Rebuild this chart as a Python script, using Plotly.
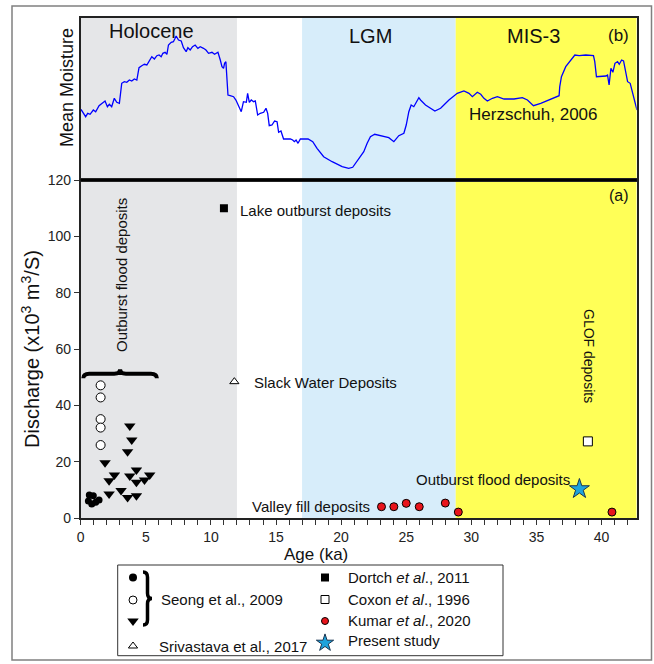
import plotly.graph_objects as go

W, H = 654, 664
FONT = "Liberation Sans, Arial, sans-serif"

# ---------------- data ----------------
moist_age = [0.02, 0.38, 0.54, 0.72, 0.97, 1.15, 1.41, 1.66, 1.87, 2.05, 2.2, 2.38, 2.58, 2.77, 2.97,
             3.15, 3.35, 3.54, 3.74, 3.92, 4.12, 4.31, 4.48, 4.69, 4.89, 5.08, 5.25, 5.46, 5.66, 5.85,
             6.02, 6.18, 6.31, 6.48, 6.62, 6.74, 6.95, 7.12, 7.25, 7.33, 7.51, 7.72, 7.89, 8.1, 8.23,
             8.41, 8.59, 8.79, 9.0, 9.18, 9.43, 9.62, 9.82, 10.08, 10.28, 10.54, 10.72, 10.85, 10.97,
             11.05, 11.15, 11.23, 11.31, 11.48, 11.74, 11.92, 12.12, 12.33, 12.5, 12.72, 12.82, 12.95,
             13.1, 13.28, 13.41, 13.59, 13.79, 14.05, 14.23, 14.36, 14.48, 14.69, 14.89, 15.08, 15.2,
             15.38, 15.58, 15.85, 16.1, 16.28, 16.41, 16.54, 16.69, 16.87, 17.12, 17.46, 17.82, 18.15,
             18.66, 19.31, 20.08, 20.58, 20.89, 21.1, 21.41, 21.74, 22.0, 22.25, 22.58, 23.15, 23.66,
             24.05, 24.43, 24.82, 25.0, 25.2, 25.38, 25.58, 25.85, 25.97, 26.1, 26.48, 27.2, 27.64,
             28.28, 28.92, 29.43, 29.82, 30.08, 30.46, 30.72, 30.97, 31.23, 31.62, 32.0, 32.51, 33.28,
             33.92, 34.31, 34.77, 35.33, 35.97, 36.74, 36.79, 36.92, 37.25, 37.64, 37.95, 38.28, 38.79,
             39.38, 39.48, 39.61, 39.95, 40.33, 40.46, 40.58, 40.72, 40.87, 41.03, 41.23, 41.36, 41.54,
             41.69, 41.79, 42.0, 42.2, 42.38, 42.72]
moist_val = [70.7, 63.3, 66.7, 65.7, 70, 68.3, 74.3, 76.7, 79, 73.3, 75.7, 73.3, 81.7, 77.7, 76.7,
             96.7, 98.3, 97.7, 100, 99, 101, 100, 112.3, 114.3, 115.7, 115, 118.3, 123.3, 121, 124.3,
             125, 123.3, 126.7, 127.7, 125.7, 135, 137.7, 138.3, 141.7, 144, 140, 139, 132.3, 128.3, 132.3,
             130, 133.3, 135, 131.7, 133.3, 131.7, 130, 126.7, 127.7, 125.7, 127.7, 120, 113.3, 111.7,
             116.7, 118.3, 100, 85, 84.3, 83.3, 80, 75, 68.3, 78.3, 77.7, 86.7, 77.7,
             80, 78.3, 79, 65, 66.7, 67.7, 71.7, 66.7, 54.3, 55, 59, 58.3, 47.7,
             49, 41, 41, 41, 40, 38.3, 40, 36.7, 41, 41, 41, 38.3, 31.7,
             23.3, 18.3, 13.3, 11.7, 12.7, 16.7, 23.3, 28.3, 36.7, 43.3, 45.7, 44.3, 42.3,
             38.3, 44.3, 46.7, 55, 68.3, 75, 73.3, 80, 82.3, 80, 75, 69, 71.7,
             80, 86.7, 89, 86.7, 83.3, 87.7, 85.7, 81.7, 79, 81.7, 83.3, 81, 81,
             82.3, 80, 74.3, 76.7, 80, 84.3, 93.3, 103.3, 113.3, 120, 125, 124.3, 125,
             124.3, 118.3, 103.3, 103.3, 104, 105, 95, 111.7, 107.7, 116.7, 118.3, 115.7, 120,
             119, 111.7, 98.3, 96.7, 88.3, 70]

seong_filled_age = [0.66, 0.97, 0.59, 0.85, 1.15, 1.41]
seong_filled_q = [8.2, 7.9, 6.0, 5.0, 5.6, 6.4]
seong_open_age = [1.53, 1.53, 1.53, 1.53, 1.53]
seong_open_q = [47.1, 42.8, 35.1, 32.1, 25.9]
seong_tri_age = [1.87, 2.18, 2.59, 2.18, 3.1, 3.77, 3.92, 3.6, 3.77, 4.28, 4.28, 3.6, 4.28, 4.9, 5.3]
seong_tri_q = [19.6, 13.2, 15.3, 8.5, 9.8, 32.7, 27.7, 23.5, 14.9, 17.0, 12.7, 7.3, 7.9, 13.5, 15.3]
dortch_age = [11.0]
dortch_q = [110]
srivastava_age = [11.8]
srivastava_q = [48.4]
coxon_age = [38.95]
coxon_q = [27.2]
kumar_age = [23.1, 24.05, 25.0, 26.0, 28.0, 29.0, 40.8]
kumar_q = [4.0, 4.0, 5.2, 4.0, 5.3, 2.1, 2.1]
present_age = [38.3]
present_q = [10.3]

periods = [("Holocene", 0, 12, "#e5e6e8"), ("", 12, 17, None),
           ("LGM", 17, 28.8, "#d7edfa"), ("MIS-3", 28.8, 42.7, "#ffff57")]
x_ticks = [0, 5, 10, 15, 20, 25, 30, 35, 40]
y_ticks = [0, 20, 40, 60, 80, 100, 120]

# ---------------- layout geometry (pixels) ----------------
PX_L, PX_R = 80.7, 636.7
PY_TOP, PY_MID, PY_BOT = 18, 180, 518
def xp(px): return px / W
def yp(py): return 1 - py / H

fig = go.Figure()

# moisture curve (top panel)
fig.add_trace(go.Scatter(x=moist_age, y=moist_val, mode="lines", xaxis="x2", yaxis="y2",
                         line=dict(color="#0000ff", width=1.3), showlegend=False))

mk_line = dict(color="black", width=1)
fig.add_trace(go.Scatter(x=seong_filled_age, y=seong_filled_q, mode="markers",
                         marker=dict(symbol="circle", size=7, color="black"), showlegend=False))
fig.add_trace(go.Scatter(x=seong_open_age, y=seong_open_q, mode="markers",
                         marker=dict(symbol="circle", size=9, color="white", line=mk_line), showlegend=False))
fig.add_trace(go.Scatter(x=seong_tri_age, y=seong_tri_q, mode="markers",
                         marker=dict(symbol="triangle-down", size=10, color="black"), showlegend=False))
fig.add_trace(go.Scatter(x=dortch_age, y=dortch_q, mode="markers",
                         marker=dict(symbol="square", size=8, color="black"), showlegend=False))
fig.add_trace(go.Scatter(x=srivastava_age, y=srivastava_q, mode="markers",
                         marker=dict(symbol="triangle-up", size=8, color="white", line=mk_line), showlegend=False))
fig.add_trace(go.Scatter(x=coxon_age, y=coxon_q, mode="markers",
                         marker=dict(symbol="square", size=9, color="white", line=mk_line), showlegend=False))
fig.add_trace(go.Scatter(x=kumar_age, y=kumar_q, mode="markers",
                         marker=dict(symbol="circle", size=8, color="#e8141c", line=mk_line), showlegend=False))
fig.add_trace(go.Scatter(x=present_age, y=present_q, mode="markers",
                         marker=dict(symbol="star", size=15, color="#1ea3dc", line=dict(color="#1a3550", width=1)),
                         showlegend=False))

# ---------------- legend (pixel-space overlay axis) ----------------
LX1, LX2 = 133, 325
leg_left = [("circle", 8, "black", None, 577.5),
            ("circle", 8, "white", mk_line, 600),
            ("triangle-down", 10, "black", None, 621),
            ("triangle-up", 8, "white", mk_line, 646)]
leg_right = [("square", 8, "black", None, 577.5),
             ("square", 8, "white", mk_line, 599.5),
             ("circle", 7, "#e8141c", mk_line, 621),
             ("star", 13, "#1ea3dc", dict(color="#1a3550", width=1), 643)]
for col_x, items in ((LX1, leg_left), (LX2, leg_right)):
    for sym, sz, colr, ln, yy in items:
        m = dict(symbol=sym, size=sz, color=colr)
        if ln:
            m["line"] = ln
        fig.add_trace(go.Scatter(x=[col_x], y=[yy], mode="markers", xaxis="x3", yaxis="y3",
                                 marker=m, showlegend=False, hoverinfo="skip"))

# ---------------- shapes ----------------
shapes = []
for name, a, b, col in periods:
    if col:
        shapes.append(dict(type="rect", xref="x", yref="paper", x0=a, x1=b,
                           y0=yp(PY_BOT), y1=yp(PY_TOP), fillcolor=col, line=dict(width=0), layer="below"))

def hbrace(x0, x1, y, h):
    xm = (x0 + x1) / 2
    r = (x1 - x0) * 0.08
    yb = y + h * 0.5
    return (f"M {x0},{y} Q {x0},{yb} {x0 + r},{yb} L {xm - r},{yb} "
            f"Q {xm},{yb} {xm},{y + h} Q {xm},{yb} {xm + r},{yb} L {x1 - r},{yb} Q {x1},{yb} {x1},{y}")

def vbrace(x, y0, y1, w):
    ym = (y0 + y1) / 2
    r = (y1 - y0) * 0.1
    xb = x + w * 0.5
    return (f"M {x},{y0} Q {xb},{y0} {xb},{y0 + r} L {xb},{ym - r} "
            f"Q {xb},{ym} {x + w},{ym} Q {xb},{ym} {xb},{ym + r} L {xb},{y1 - r} Q {xb},{y1} {x},{y1}")

shapes.append(dict(type="path", xref="x", yref="y", path=hbrace(0.2, 5.85, 49.6, 3.2),
                   line=dict(color="black", width=4)))
shapes.append(dict(type="path", xref="x3", yref="y3", path=vbrace(143, 572, 625, 9),
                   line=dict(color="black", width=3.5)))
# legend box
shapes.append(dict(type="rect", xref="x3", yref="y3", x0=117.7, x1=503, y0=565, y1=655.7,
                   line=dict(color="#333", width=1)))
# outer frame
shapes.append(dict(type="rect", xref="paper", yref="paper", x0=xp(12), x1=xp(651.5), y0=yp(660), y1=yp(6),
                   line=dict(color="#808080", width=1.5)))

# ---------------- annotations ----------------
ann = []
def txt(x, y, s, size=15, xanchor="center", ref="x3", angle=0, yanchor="middle"):
    ann.append(dict(x=x, y=y, xref=ref, yref="y3" if ref == "x3" else ref.replace("x", "y"),
                    text=s, showarrow=False, xanchor=xanchor, yanchor=yanchor, textangle=angle,
                    font=dict(family=FONT, size=size, color="#111")))

txt(151.7, 31, "Holocene", 20)
txt(370, 36, "LGM", 20)
txt(533, 36, "MIS-3", 20)
txt(631, 35, "(b)", 17, xanchor="right")
txt(533, 114, "Herzschuh, 2006", 17)
txt(631, 195, "(a)", 16, xanchor="right")
txt(67, 88, "Mean Moisture", 18, angle=-90)
txt(30, 349, "Discharge (x10<sup>3</sup> m<sup>3</sup>/S)", 20, angle=-90)
txt(316, 554, "Age (ka)", 17)
txt(238, 210, "Lake outburst deposits", 15, xanchor="left")
txt(252, 382, "Slack Water Deposits", 15, xanchor="left")
txt(121, 275, "Outburst flood deposits", 15, angle=-90)
txt(589, 356, "GLOF deposits", 14, angle=90)
txt(250, 506, "Valley fill deposits", 15, xanchor="left")
txt(414, 479, "Outburst flood deposits", 15, xanchor="left")
txt(159, 599, "Seong et al., 2009", 15, xanchor="left")
txt(157, 646, "Srivastava et al., 2017", 15, xanchor="left")
txt(346, 577.5, "Dortch <i>et al</i>., 2011", 15, xanchor="left")
txt(346, 599.5, "Coxon <i>et al</i>., 1996", 15, xanchor="left")
txt(346, 620.5, "Kumar <i>et al</i>., 2020", 15, xanchor="left")
txt(346, 640.5, "Present study", 15, xanchor="left")

axis_common = dict(showgrid=False, zeroline=False, automargin=False)
fig.update_layout(
    width=W, height=H, margin=dict(l=0, r=0, t=0, b=0, pad=0), autosize=False,
    paper_bgcolor="white", plot_bgcolor="rgba(0,0,0,0)",
    font=dict(family=FONT, size=14, color="#222"),
    showlegend=False,
    xaxis=dict(domain=[xp(PX_L), xp(PX_R)], anchor="y", range=[0, 42.7], tickvals=x_ticks,
               ticks="outside", ticklen=5, tickwidth=1, tickcolor="#333",
               minor=dict(dtick=1, ticks="outside", ticklen=5, tickwidth=1, tickcolor="#333"),
               showline=True, linecolor="#222", linewidth=1.5, mirror=True,
               tickfont=dict(size=14, color="#222"), **axis_common),
    yaxis=dict(domain=[yp(PY_BOT), yp(PY_MID)], anchor="x", range=[0, 120], tickvals=y_ticks,
               ticks="outside", ticklen=5, tickwidth=1, tickcolor="#333",
               showline=True, linecolor="#222", linewidth=1.5, mirror=True,
               tickfont=dict(size=14, color="#222"), **axis_common),
    xaxis2=dict(domain=[xp(PX_L), xp(PX_R)], anchor="y2", range=[0, 42.7], showticklabels=False,
                ticks="", showline=True, linecolor="#222", linewidth=1.5, mirror=True, **axis_common),
    yaxis2=dict(domain=[yp(PY_MID), yp(PY_TOP)], anchor="x2", range=[0, 162], showticklabels=False,
                ticks="", showline=True, linecolor="#222", linewidth=1.5, mirror=True, **axis_common),
    xaxis3=dict(domain=[0, 1], anchor="y3", range=[0, W], visible=False, **axis_common),
    yaxis3=dict(domain=[0, 1], anchor="x3", range=[H, 0], visible=False, **axis_common),
    shapes=shapes, annotations=ann,
)
# separator between panels
fig.add_shape(type="line", xref="paper", yref="paper", x0=xp(PX_L), x1=xp(PX_R), y0=yp(PY_MID), y1=yp(PY_MID),
              line=dict(color="black", width=2))

fig.write_html("out.html")
